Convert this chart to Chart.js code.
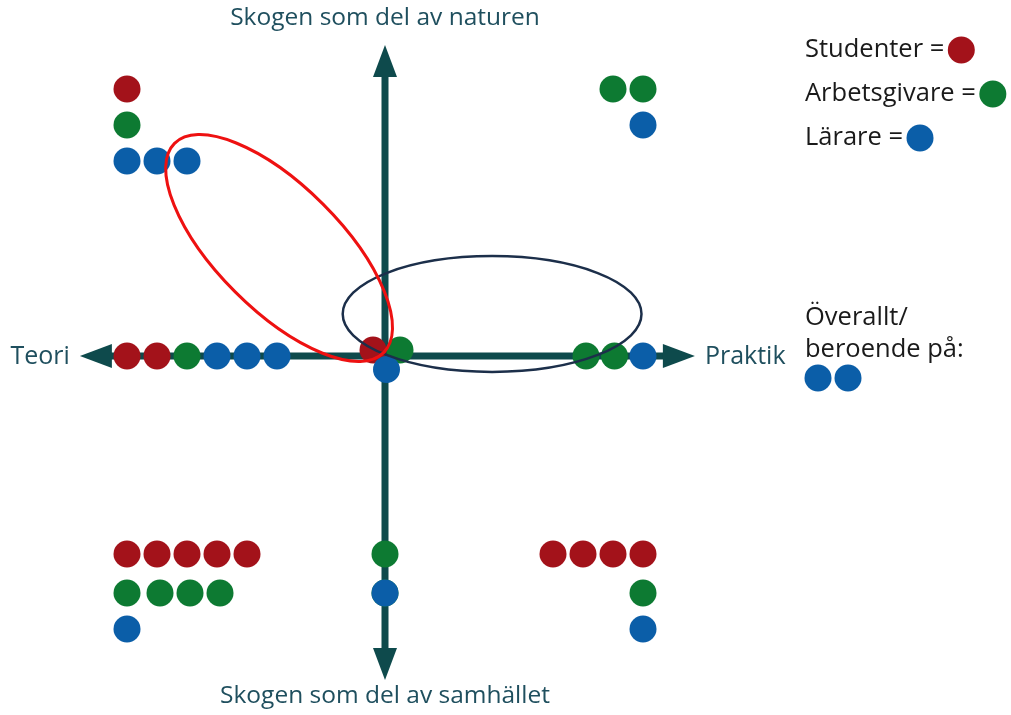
<!DOCTYPE html>
<html>
<head>
<meta charset="utf-8">
<script src="https://cdn.jsdelivr.net/npm/chart.js@4.4.1/dist/chart.umd.min.js"></script>
<style>
  body { margin: 0; background: #fff; }
  canvas { display: block; }
</style>
</head>
<body>
<canvas id="quadChart" width="1011" height="715"></canvas>
<script>
// units: 1 = one dot step, origin at the axis crossing
const studenter = [
    {x: -8.6, y: 8.9},
    {x: -8.6, y: 0}, {x: -7.6, y: 0},
    {x: -0.4, y: 0.2},
    {x: -8.6, y: -6.6}, {x: -7.6, y: -6.6}, {x: -6.6, y: -6.6}, {x: -5.6, y: -6.6}, {x: -4.6, y: -6.6},
    {x: 5.6, y: -6.6}, {x: 6.6, y: -6.6}, {x: 7.6, y: -6.6}, {x: 8.6, y: -6.6}
];
const arbetsgivare = [
    {x: -8.6, y: 7.7},
    {x: 7.6, y: 8.9}, {x: 8.6, y: 8.9},
    {x: -6.6, y: 0},
    {x: 0.5, y: 0.2},
    {x: 6.7, y: 0}, {x: 7.65, y: 0},
    {x: -8.6, y: -7.9}, {x: -7.5, y: -7.9}, {x: -6.5, y: -7.9}, {x: -5.5, y: -7.9},
    {x: 0, y: -6.6}, {x: 0, y: -7.9},
    {x: 8.6, y: -7.9}
];
const larare = [
    {x: -8.6, y: 6.5}, {x: -7.6, y: 6.5}, {x: -6.6, y: 6.5},
    {x: 8.6, y: 7.7},
    {x: -5.6, y: 0}, {x: -4.6, y: 0}, {x: -3.6, y: 0},
    {x: 0.05, y: -0.45},
    {x: 8.6, y: 0},
    {x: -8.6, y: -9.1},
    {x: 0, y: -7.9},
    {x: 8.6, y: -9.1}
];
const axisLabels = {
    top: 'Skogen som del av naturen',
    bottom: 'Skogen som del av samhället',
    left: 'Teori',
    right: 'Praktik'
};
const legendLabels = ['Studenter =', 'Arbetsgivare =', 'Lärare ='];
const extraLabel = ['Överallt/', 'beroende på:'];

// ellipses: centre, semi axes (units) and rotation (degrees)
const redEllipse = {cx: -3.53, cy: 3.6, rx: 4.93, ry: 2.07, rot: 45};
const darkEllipse = {cx: 3.57, cy: 1.4, rx: 4.98, ry: 1.93, rot: 0};

const RED = '#a3121a';
const GREEN = '#0d7a32';
const BLUE = '#0b5ea8';
const AXIS = '#0e4a4c';
const TEXT = '#1f4f5e';
const DOT = 13.5;

const quadPlugin = {
    id: 'quad',
    beforeDatasetsDraw(chart) {
        const {ctx, scales: {x, y}} = chart;
        const cx = x.getPixelForValue(0), cy = y.getPixelForValue(0);
        const left = x.getPixelForValue(-10.17), right = x.getPixelForValue(10.33);
        const top = y.getPixelForValue(10.37), bottom = y.getPixelForValue(-10.8);
        const head = 32, hw = 12;
        ctx.save();
        ctx.strokeStyle = AXIS;
        ctx.fillStyle = AXIS;
        ctx.lineWidth = 7;
        ctx.beginPath();
        ctx.moveTo(left + head - 2, cy); ctx.lineTo(right - head + 2, cy);
        ctx.moveTo(cx, top + head - 2); ctx.lineTo(cx, bottom - head + 2);
        ctx.stroke();
        const tri = (pts) => {
            ctx.beginPath();
            ctx.moveTo(pts[0], pts[1]); ctx.lineTo(pts[2], pts[3]); ctx.lineTo(pts[4], pts[5]);
            ctx.closePath(); ctx.fill();
        };
        tri([left, cy, left + head, cy - hw, left + head, cy + hw]);
        tri([right, cy, right - head, cy - hw, right - head, cy + hw]);
        tri([cx, top, cx - hw, top + head, cx + hw, top + head]);
        tri([cx, bottom, cx - hw, bottom - head, cx + hw, bottom - head]);

        ctx.font = '24.5px "Open Sans"';
        ctx.fillStyle = TEXT;
        ctx.textBaseline = 'middle';
        ctx.textAlign = 'center';
        ctx.fillText(axisLabels.top, cx, 18);
        ctx.fillText(axisLabels.bottom, cx, 696);
        ctx.font = '25px "Open Sans"';
        ctx.textAlign = 'right';
        ctx.fillText(axisLabels.left, left - 10, cy + 1);
        ctx.textAlign = 'left';
        ctx.fillText(axisLabels.right, right + 10, cy + 1);
        ctx.restore();
    },
    afterDatasetsDraw(chart) {
        const {ctx, scales: {x, y}} = chart;
        const ell = (e, color, w) => {
            const px = x.getPixelForValue(e.cx), py = y.getPixelForValue(e.cy);
            const rx = Math.abs(x.getPixelForValue(e.rx) - x.getPixelForValue(0));
            const ry = Math.abs(y.getPixelForValue(e.ry) - y.getPixelForValue(0));
            ctx.beginPath();
            ctx.ellipse(px, py, rx, ry, e.rot * Math.PI / 180, 0, Math.PI * 2);
            ctx.strokeStyle = color;
            ctx.lineWidth = w;
            ctx.stroke();
        };
        ctx.save();
        ell(darkEllipse, '#1c2f4a', 2.5);
        ell(redEllipse, '#ee1111', 3);

        // legend
        ctx.font = '25.5px "Open Sans"';
        ctx.fillStyle = '#1a1a1a';
        ctx.textBaseline = 'middle';
        ctx.textAlign = 'left';
        const colors = [RED, GREEN, BLUE];
        legendLabels.forEach((t, i) => {
            const ly = 50 + i * 44;
            ctx.fillText(t, 805, ly);
            const w = ctx.measureText(t).width;
            ctx.beginPath();
            ctx.arc(805 + w + 17, ly, DOT, 0, Math.PI * 2);
            ctx.fillStyle = colors[i];
            ctx.fill();
            ctx.fillStyle = '#1a1a1a';
        });
        ctx.fillText(extraLabel[0], 805, 318);
        ctx.fillText(extraLabel[1], 805, 350);
        ctx.fillStyle = BLUE;
        [818, 848].forEach(px => {
            ctx.beginPath();
            ctx.arc(px, 378, DOT, 0, Math.PI * 2);
            ctx.fill();
        });
        ctx.restore();
    }
};

const dotSet = (label, data, color, order) => ({
    label, data, order,
    backgroundColor: color,
    borderWidth: 0,
    pointRadius: DOT,
    pointHoverRadius: DOT
});

new Chart(document.getElementById('quadChart'), {
    type: 'scatter',
    data: {
        datasets: [
            dotSet('Studenter', studenter, RED, 2),
            dotSet('Arbetsgivare', arbetsgivare, GREEN, 1),
            dotSet('Lärare', larare, BLUE, 0)
        ]
    },
    options: {
        responsive: false,
        animation: false,
        layout: {padding: 0, autoPadding: false},
        plugins: {legend: {display: false}, tooltip: {enabled: false}},
        scales: {
            x: {type: 'linear', display: false, min: -385 / 30, max: 626 / 30},
            y: {type: 'linear', display: false, min: -359 / 30, max: 356 / 30}
        }
    },
    plugins: [quadPlugin]
});
</script>
</body>
</html>
